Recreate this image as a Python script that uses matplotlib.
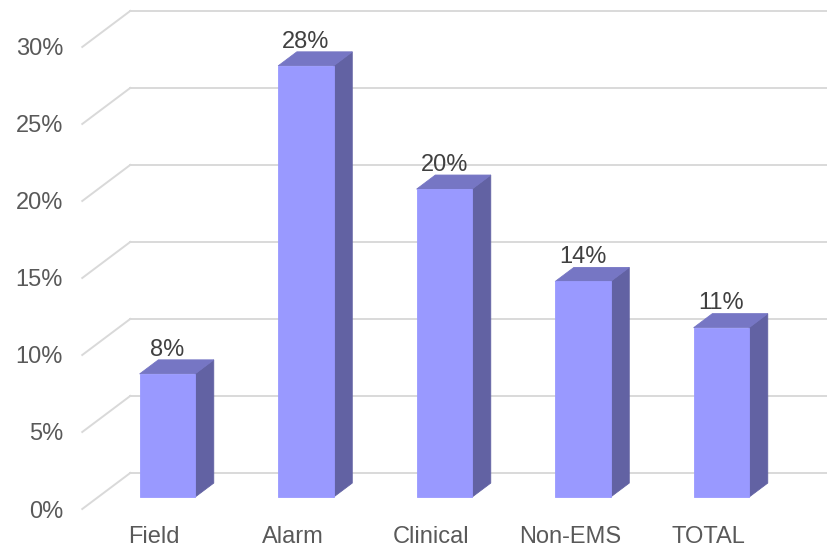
import matplotlib.pyplot as plt
from matplotlib.patches import Polygon

categories = ["Field", "Alarm", "Clinical", "Non-EMS", "TOTAL"]
values = [8, 28, 20, 14, 11]
yticks = [0, 5, 10, 15, 20, 25, 30]

# oblique offset from the front plane to the back wall (data units)
DX, DY = 0.3466, 2.34
D0, D1 = 0.33, 0.72      # depth slice occupied by the bars
W = 0.4                  # bar width

FRONT = "#9999FF"
TOP = "#7676C4"
SIDE = "#6262A3"
GRID = "#D9D9D9"


def P(x, y, d):
    return (x + d * DX, y + d * DY)


fig = plt.figure(figsize=(8.28, 5.49), dpi=100)
ax = fig.add_axes([0, 0, 1, 1])
ax.set_xlim(-1.0939, 4.8845)
ax.set_ylim(-2.597, 33.05)
ax.axis("off")

plt.rcParams["font.family"] = ["Liberation Sans", "DejaVu Sans"]

# walls: diagonal on the left side, horizontals on the back
x_left, x_right = -0.5, 4.85
for t in yticks:
    a, b = P(x_left, t, 0), P(x_left, t, 1)
    ax.plot([a[0], b[0]], [a[1], b[1]], color=GRID, lw=1.4, zorder=1)
    ax.plot([b[0], x_right + DX * 0 + 0.03], [b[1], b[1]], color=GRID, lw=1.4, zorder=1)
    ax.text(-0.639, t, f"{t}%", ha="right", va="center_baseline",
            fontsize=17, color="#595959")

for i, v in enumerate(values):
    x0, x1 = i - W / 2, i + W / 2
    front = [P(x0, 0, D0), P(x1, 0, D0), P(x1, v, D0), P(x0, v, D0)]
    top = [P(x0, v, D0), P(x1, v, D0), P(x1, v, D1), P(x0, v, D1)]
    side = [P(x1, 0, D0), P(x1, 0, D1), P(x1, v, D1), P(x1, v, D0)]
    for pts, c in ((side, SIDE), (top, TOP), (front, FRONT)):
        ax.add_patch(Polygon(pts, closed=True, facecolor=c, edgecolor=c,
                             lw=0.6, zorder=3))
    lx, ly = P(i, v, D0)[0], P(i, v, D1)[1]
    ax.text(lx, ly + 0.28, f"{v}%", ha="center", va="baseline",
            fontsize=17, color="#404040", zorder=4)
    ax.text(i + 0.02, -2.2, categories[i], ha="center", va="baseline",
            fontsize=17, color="#595959")

fig.savefig("out.png", dpi=100)
